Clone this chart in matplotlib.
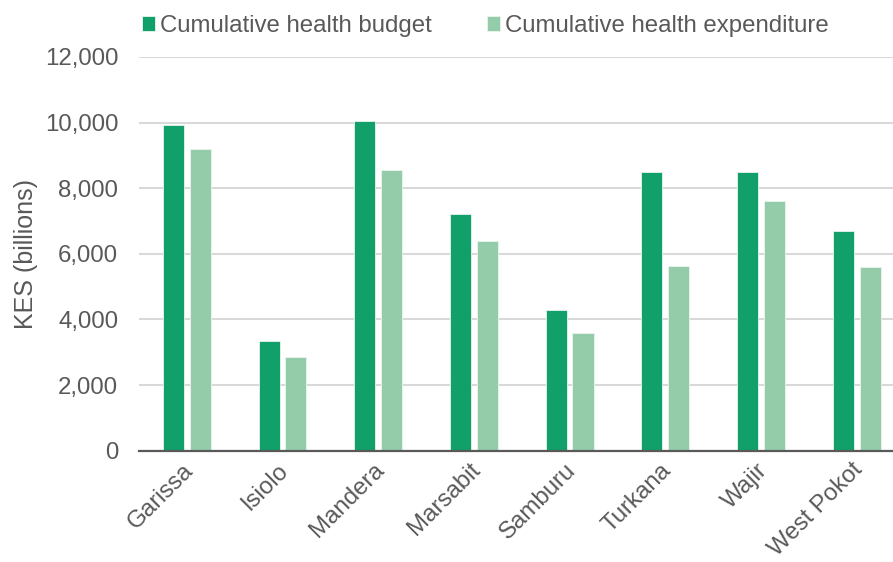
## import libraries ##
import matplotlib.pyplot as plt
import matplotlib.transforms as mtransforms
import numpy as np

plt.rcParams['font.family'] = ['Liberation Sans', 'DejaVu Sans']

## data ##
counties = ['Garissa', 'Isiolo', 'Mandera', 'Marsabit', 'Samburu', 'Turkana', 'Wajir', 'West Pokot']
budget = [9940, 3340, 10060, 7210, 4280, 8500, 8490, 6690]
expenditure = [9200, 2860, 8560, 6390, 3590, 5640, 7610, 5600]

dark_green = '#119F6A'
light_green = '#94CCAA'
text_grey = '#595959'

x = np.arange(len(counties))
bar_width = 0.22
offset = 0.14

## set up bar chart ##
fig = plt.figure(figsize=(8.93, 5.62), dpi=100)
ax = fig.add_axes([0.1557, 0.198, 0.8443, 0.7006])

ax.bar(x - offset, budget, bar_width, color=dark_green, edgecolor='#E8F5EE', linewidth=0.6,
       label='Cumulative health budget', zorder=3)
ax.bar(x + offset, expenditure, bar_width, color=light_green, edgecolor='#EAF5EE', linewidth=0.6,
       label='Cumulative health expenditure', zorder=3)

ax.set_xlim(-0.5, 7.38)
ax.set_ylim(0, 12000)
ax.set_yticks(np.arange(0, 12001, 2000))
ax.set_yticklabels([f'{v:,}' for v in range(0, 12001, 2000)])
ax.grid(axis='y', color='#D9D9D9', linewidth=1.5, zorder=0)

for side in ['top', 'right', 'left']:
    ax.spines[side].set_visible(False)
ax.spines['bottom'].set_color(text_grey)
ax.spines['bottom'].set_linewidth(1.6)
ax.spines['bottom'].set_zorder(4)

ax.tick_params(axis='both', length=0, labelsize=17.3, colors=text_grey)
ax.tick_params(axis='y', pad=15)
ax.tick_params(axis='x', pad=6)
ax.set_xticks(x)
ax.set_xticklabels(counties, rotation=45, ha='right', va='top', rotation_mode='anchor')
shift = mtransforms.ScaledTranslation(-5 / 100, 0, fig.dpi_scale_trans)
for lbl in ax.get_xticklabels():
    lbl.set_transform(lbl.get_transform() + shift)

ax.set_ylabel('KES (billions)', fontsize=18, color=text_grey, labelpad=5)

fig.legend(loc='upper left', bbox_to_anchor=(0.148, 0.99), ncol=2, frameon=False,
           fontsize=17.3, labelcolor=text_grey, handlelength=0.55, handleheight=0.55,
           handletextpad=0.2, columnspacing=2.3, borderaxespad=0)

## save bar chart ##
fig.savefig('out.png', dpi=100)
